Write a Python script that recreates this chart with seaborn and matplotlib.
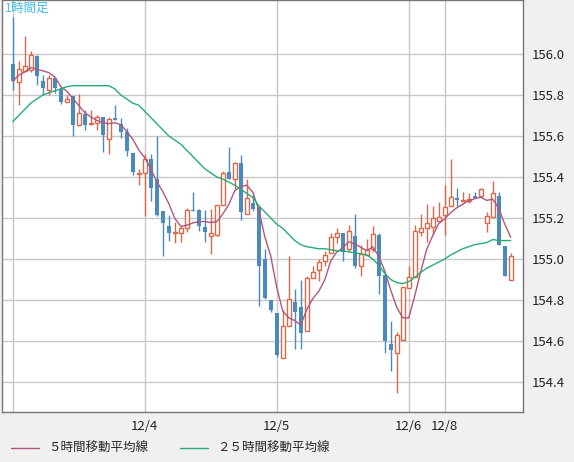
import matplotlib
matplotlib.use("Agg")
import matplotlib.pyplot as plt
import seaborn as sns
import numpy as np
import pandas as pd

opens  = [155.953,155.862,155.917,155.920,155.992,155.870,155.823,155.883,155.829,155.764,155.794,155.655,155.709,155.657,155.663,155.693,155.585,155.689,155.660,155.620,155.517,155.416,155.419,155.488,155.390,155.236,155.163,155.127,155.126,155.151,155.241,155.237,155.154,155.110,155.118,155.265,155.425,155.391,155.466,155.220,155.273,155.254,155.000,154.800,154.738,154.519,154.674,154.792,154.764,154.650,154.906,154.946,154.991,155.030,155.105,155.125,155.051,155.112,154.965,155.019,155.051,155.117,154.920,154.588,154.544,154.604,154.860,154.912,155.133,155.150,155.158,155.187,155.215,155.259,155.297,155.281,155.281,155.305,155.305,155.177,155.207,155.305,155.063,154.900]
closes = [155.867,155.927,155.941,155.997,155.891,155.833,155.883,155.833,155.764,155.780,155.655,155.712,155.655,155.663,155.693,155.607,155.683,155.676,155.618,155.525,155.423,155.416,155.488,155.346,155.216,155.176,155.127,155.127,155.151,155.241,155.233,155.159,155.130,155.126,155.264,155.417,155.391,155.466,155.228,155.298,155.244,154.968,154.811,154.751,154.530,154.672,154.803,154.743,154.641,154.906,154.939,154.983,155.020,155.105,155.125,155.035,155.136,154.965,155.024,155.046,155.122,154.915,154.601,154.557,154.631,154.863,154.912,155.136,155.150,155.174,155.199,155.204,155.253,155.302,155.289,155.289,155.292,155.297,155.341,155.210,155.321,155.068,154.915,155.017]
highs  = [156.179,155.964,156.086,156.016,155.997,155.899,155.899,155.883,155.839,155.802,155.794,155.806,155.728,155.728,155.704,155.693,155.693,155.753,155.688,155.639,155.517,155.439,155.514,155.514,155.598,155.236,155.216,155.179,155.162,155.249,155.326,155.244,155.241,155.244,155.264,155.429,155.546,155.473,155.505,155.391,155.322,155.254,155.048,154.800,154.738,154.751,155.015,154.852,154.898,154.917,154.966,154.999,155.041,155.128,155.150,155.125,155.166,155.220,155.068,155.100,155.161,155.128,154.920,154.699,154.642,154.863,154.965,155.166,155.220,155.269,155.259,155.276,155.362,155.490,155.346,155.325,155.321,155.325,155.346,155.231,155.382,155.325,155.063,155.030]
lows   = [155.826,155.753,155.915,155.911,155.850,155.802,155.802,155.810,155.758,155.764,155.602,155.650,155.631,155.655,155.628,155.520,155.514,155.676,155.590,155.504,155.411,155.363,155.211,155.281,155.211,155.013,155.086,155.078,155.081,155.130,155.233,155.135,155.081,155.025,155.113,155.265,155.388,155.339,155.192,155.220,155.232,154.772,154.805,154.743,154.522,154.519,154.674,154.560,154.560,154.650,154.906,154.894,154.966,155.027,155.079,154.991,155.040,154.958,154.915,155.019,155.035,154.827,154.544,154.454,154.347,154.604,154.860,154.912,155.112,155.084,155.117,155.187,155.117,155.259,155.259,155.281,155.272,155.297,155.305,155.133,155.207,155.068,154.915,154.900]
ma25 = [155.67,155.70,155.73,155.76,155.78,155.80,155.81,155.82,155.83,155.84,155.845,155.845,155.845,155.845,155.845,155.845,155.845,155.83,155.80,155.78,155.76,155.75,155.72,155.69,155.66,155.63,155.60,155.58,155.56,155.53,155.50,155.47,155.44,155.42,155.40,155.39,155.375,155.36,155.34,155.32,155.30,155.26,155.23,155.20,155.17,155.15,155.12,155.09,155.07,155.06,155.055,155.05,155.05,155.045,155.04,155.04,155.035,155.03,155.025,155.02,155.00,154.97,154.93,154.90,154.885,154.88,154.89,154.91,154.935,154.955,154.97,154.985,155.0,155.02,155.035,155.05,155.06,155.07,155.075,155.08,155.095,155.09,155.09,155.09]
date_ticks = [22, 44, 66, 72]
date_labels = ["12/4", "12/5", "12/6", "12/8"]
y_ticks = [154.4, 154.6, 154.8, 155.0, 155.2, 155.4, 155.6, 155.8, 156.0]

df = pd.DataFrame({"i": np.arange(len(opens)), "o": opens, "c": closes, "h": highs, "l": lows, "ma25": ma25})
df["ma5"] = df["c"].rolling(5, min_periods=1).mean()

sns.set_style("white")
plt.rcParams['font.family'] = ['Noto Sans CJK JP', 'DejaVu Sans']

fig = plt.figure(figsize=(5.74, 4.62), dpi=100, facecolor="#f0f0f0")
ax = fig.add_axes([2/574, 50/462, 521/574, 412/462])
ax.set_facecolor("white")

UP, DN = "#d9694a", "#4a8abf"
up = df[df.c >= df.o]; dn = df[df.c < df.o]
ax.vlines(up.i, up.l, up.h, color=UP, lw=1, zorder=3)
ax.vlines(dn.i, dn.l, dn.h, color=DN, lw=1, zorder=3)
ax.bar(up.i, (up.c - up.o).clip(lower=0.003), bottom=up.o, width=0.62, facecolor="white", edgecolor=UP, lw=1, zorder=4)
ax.bar(dn.i, (dn.o - dn.c), bottom=dn.c, width=0.62, color=DN, lw=0, zorder=4)

sns.lineplot(data=df, x="i", y="ma5", ax=ax, color="#b0567e", lw=1, zorder=5)
sns.lineplot(data=df, x="i", y="ma25", ax=ax, color="#26ad72", lw=1, zorder=5)

ax.set_xlim(-1.8, 85.05)
ax.set_ylim(154.254, 156.263)
ax.set_xticks([0] + date_ticks)
ax.set_xticklabels([""] + date_labels)
ax.set_yticks(y_ticks)
ax.set_yticklabels([f"{v:.1f}" for v in y_ticks])
ax.yaxis.tick_right()
ax.grid(True, color="#c8c8c8", lw=1)
ax.set_axisbelow(True)
ax.tick_params(length=0, labelsize=9.5, colors="#222222", pad=6)
ax.set_xlabel(""); ax.set_ylabel("")
for s in ax.spines.values():
    s.set_color("#777777"); s.set_linewidth(1)
ax.text(0.005, 0.995, "1時間足", transform=ax.transAxes, ha="left", va="top", color="#3cc0e8", fontsize=9)

from matplotlib.lines import Line2D
handles = [Line2D([], [], color="#b0567e", lw=1), Line2D([], [], color="#26ad72", lw=1)]
fig.legend(handles, ["５時間移動平均線", "２５時間移動平均線"], loc="lower left", bbox_to_anchor=(0.0, -0.01),
           ncol=2, frameon=False, fontsize=9, handlelength=2.2, columnspacing=2.5)

fig.savefig("out.png", dpi=100, facecolor=fig.get_facecolor())
